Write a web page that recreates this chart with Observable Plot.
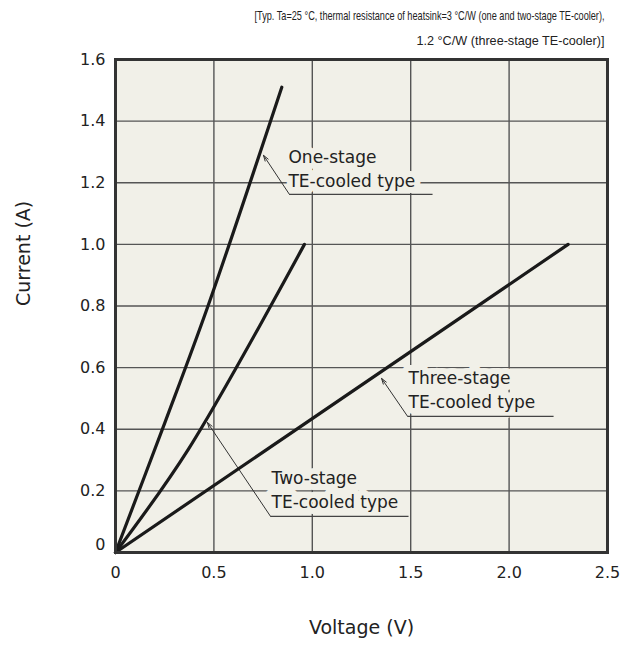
<!DOCTYPE html>
<html><head><meta charset="utf-8">
<script src="https://cdn.jsdelivr.net/npm/d3@7"></script>
<script src="https://cdn.jsdelivr.net/npm/@observablehq/plot@0.6"></script>
<style>body{margin:0;background:#fff}</style>
</head><body><div id="chart"></div>
<script>
// Data
const oneStageV = [0, 0.25, 0.47, 0.845];
const oneStageI = [0, 0.42, 0.8, 1.51];
const twoStageV = [0, 0.37, 0.96];
const twoStageI = [0, 0.335, 1.0];
const threeStageV = [0, 2.3];
const threeStageI = [0, 1.0];

const xTicks = [0, 0.5, 1.0, 1.5, 2.0, 2.5];
const xTickLabels = ["0", "0.5", "1.0", "1.5", "2.0", "2.5"];
const yTicks = [0, 0.2, 0.4, 0.6, 0.8, 1.0, 1.2, 1.4, 1.6];
const yTickLabels = ["0", "0.2", "0.4", "0.6", "0.8", "1.0", "1.2", "1.4", "1.6"];

const labelText = ["One-stage\nTE-cooled type", "Two-stage\nTE-cooled type", "Three-stage\nTE-cooled type"];
const labelV = [0.879, 0.793, 1.489];
const labelI = [1.185, 0.143, 0.468];
const underlineStartV = [0.884, 0.788, 1.484];
const underlineEndV = [1.611, 1.489, 2.226];
const underlineI = [1.162, 0.117, 0.442];
const tipV = [0.752, 0.467, 1.352];
const tipI = [1.289, 0.422, 0.565];

const titleLines = [
  "[Typ. Ta=25 °C, thermal resistance of heatsink=3 °C/W (one and two-stage TE-cooler),",
  "1.2 °C/W (three-stage TE-cooler)]"
];
const titleWidths = [350, 188];
const xTitle = "Voltage (V)";
const yTitle = "Current (A)";

// Build tables
const series = [
  ...oneStageV.map((v, i) => ({s: "one", v, c: oneStageI[i]})),
  ...twoStageV.map((v, i) => ({s: "two", v, c: twoStageI[i]})),
  ...threeStageV.map((v, i) => ({s: "three", v, c: threeStageI[i]}))
];
const labels = labelText.map((t, i) => ({
  t, x: labelV[i], y: labelI[i],
  ux1: underlineStartV[i], ux2: underlineEndV[i], uy: underlineI[i],
  tx: tipV[i], ty: tipI[i]
}));

const BG = "#f1f0e8";
const plot = Plot.plot({
  width: 623, height: 648,
  marginLeft: 115, marginRight: 16, marginTop: 59, marginBottom: 96,
  x: {domain: [0, 2.5]},
  y: {domain: [0, 1.6]},
  style: {fontFamily: "DejaVu Sans", background: "#fff", color: "#222"},
  marks: [
    Plot.frame({fill: BG}),
    Plot.gridX(xTicks.slice(1, -1), {stroke: "#555", strokeOpacity: 1, strokeWidth: 1.4}),
    Plot.gridY(yTicks.slice(1, -1), {stroke: "#555", strokeOpacity: 1, strokeWidth: 1.4}),
    Plot.text(labels, {x: "x", y: "y", text: "t", textAnchor: "start", lineAnchor: "bottom",
      lineHeight: 1.42, fontSize: 17, fill: "#222", stroke: BG, strokeWidth: 12,
      paintOrder: "stroke", strokeLinejoin: "round"}),
    Plot.link(labels, {x1: "ux1", x2: "ux2", y1: "uy", y2: "uy", stroke: "#444", strokeWidth: 1.2}),
    Plot.arrow(labels, {x1: "ux1", y1: "uy", x2: "tx", y2: "ty", stroke: "#333", strokeWidth: 1,
      headLength: 9, headAngle: 35}),
    Plot.line(series, {x: "v", y: "c", z: "s", stroke: "#1a1a1a", strokeWidth: 3.2,
      curve: "catmull-rom", strokeLinejoin: "round"}),
    Plot.frame({stroke: "#333", strokeWidth: 3}),
    Plot.axisX(xTicks, {tickSize: 0, tickPadding: 14, fontSize: 16, tickFormat: d => xTickLabels[xTicks.indexOf(d)]}),
    Plot.axisY(yTicks.slice(1), {tickSize: 0, tickPadding: 10, fontSize: 16, tickFormat: d => yTickLabels[yTicks.indexOf(d)]}),
    Plot.axisY([0], {tickSize: 0, tickPadding: 10, fontSize: 16, dy: -8, tickFormat: d => yTickLabels[0]}),
    Plot.text([xTitle], {frameAnchor: "bottom", dy: 81, fontSize: 19, fill: "#222"}),
    Plot.text([yTitle], {frameAnchor: "left", dx: -92, rotate: -90, fontSize: 19, fill: "#222"}),
    Plot.text([titleLines[0]], {frameAnchor: "top-right", textAnchor: "end", lineAnchor: "bottom",
      dy: -40, dx: -3, fontSize: 13.5, fontFamily: "Liberation Sans", fill: "#222"}),
    Plot.text([titleLines[1]], {frameAnchor: "top-right", textAnchor: "end", lineAnchor: "bottom",
      dy: -15, dx: -3, fontSize: 13.5, fontFamily: "Liberation Sans", fill: "#222"})
  ]
});
plot.querySelectorAll("text").forEach(t => {
  const i = titleLines.indexOf(t.textContent);
  if (i >= 0) {
    t.setAttribute("textLength", titleWidths[i]);
    t.setAttribute("lengthAdjust", "spacingAndGlyphs");
  }
});
document.getElementById("chart").appendChild(plot);
</script>
</body></html>
